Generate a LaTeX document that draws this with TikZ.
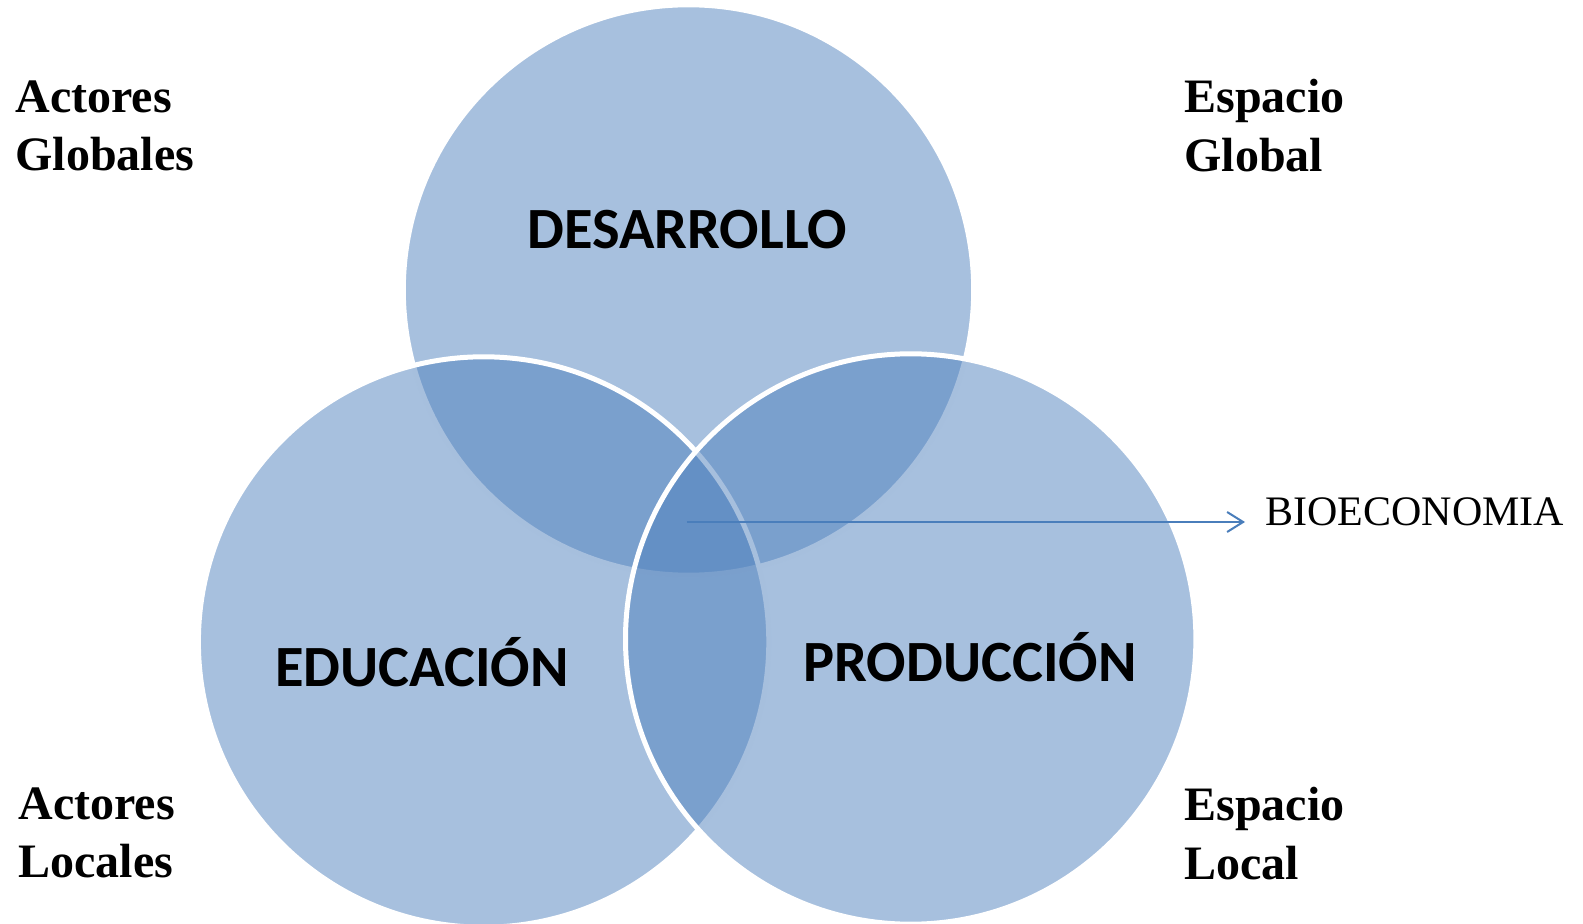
\documentclass[tikz,border=0pt]{standalone}
\usepackage{fontspec}
\setmainfont{Liberation Serif}
\newfontfamily\carlito{Carlito}
\usetikzlibrary{arrows.meta}
\definecolor{vennblue}{HTML}{4F81BD}
\definecolor{arrowblue}{HTML}{4A7EBB}
\tikzset{
  venn/.style={fill=vennblue, fill opacity=0.5, draw=white, line width=2.5pt},
  setlabel/.style={font=\carlito\bfseries\fontsize{29.2}{29.2}\selectfont, inner sep=0pt},
  cornerlabel/.style={font=\bfseries\fontsize{24}{29.25}\selectfont, align=left, anchor=north west, inner sep=0pt},
}
\begin{document}
\begin{tikzpicture}[x=0.5pt, y=-0.5pt]
	\useasboundingbox (0,0) rectangle (1583,924);
	\path[venn] (688.5,290) circle [radius=142.6pt];
	\path[venn] (483.6,642) circle [radius=142.6pt];
	\path[venn] (910.7,639) circle [radius=142.6pt];
	\node[setlabel] (desarrollo) at (687.5,230) {DESARROLLO};
	\node[setlabel] (educacion) at (422,662) {EDUCACIÓN};
	\node[setlabel] (produccion) at (970,657) {PRODUCCIÓN};
	\node[cornerlabel] (actglob) at (15,80) {Actores\\Globales};
	\node[cornerlabel] (espglob) at (1184,79) {Espacio\\Global};
	\node[cornerlabel] (actloc) at (18,787) {Actores\\Locales};
	\node[cornerlabel] (esploc) at (1184,787) {Espacio\\Local};
	\node[font=\fontsize{21}{21}\selectfont, anchor=west, inner xsep=10pt, inner ysep=0pt] (bioeco) at (1245,512) {BIOECONOMIA};
	\coordinate (core) at (686.5,522);
	\draw[arrowblue, line width=1pt, -{Straight Barb[length=8pt, width=10pt]}] (core) -- (core -| bioeco.west);
\end{tikzpicture}
\end{document}
